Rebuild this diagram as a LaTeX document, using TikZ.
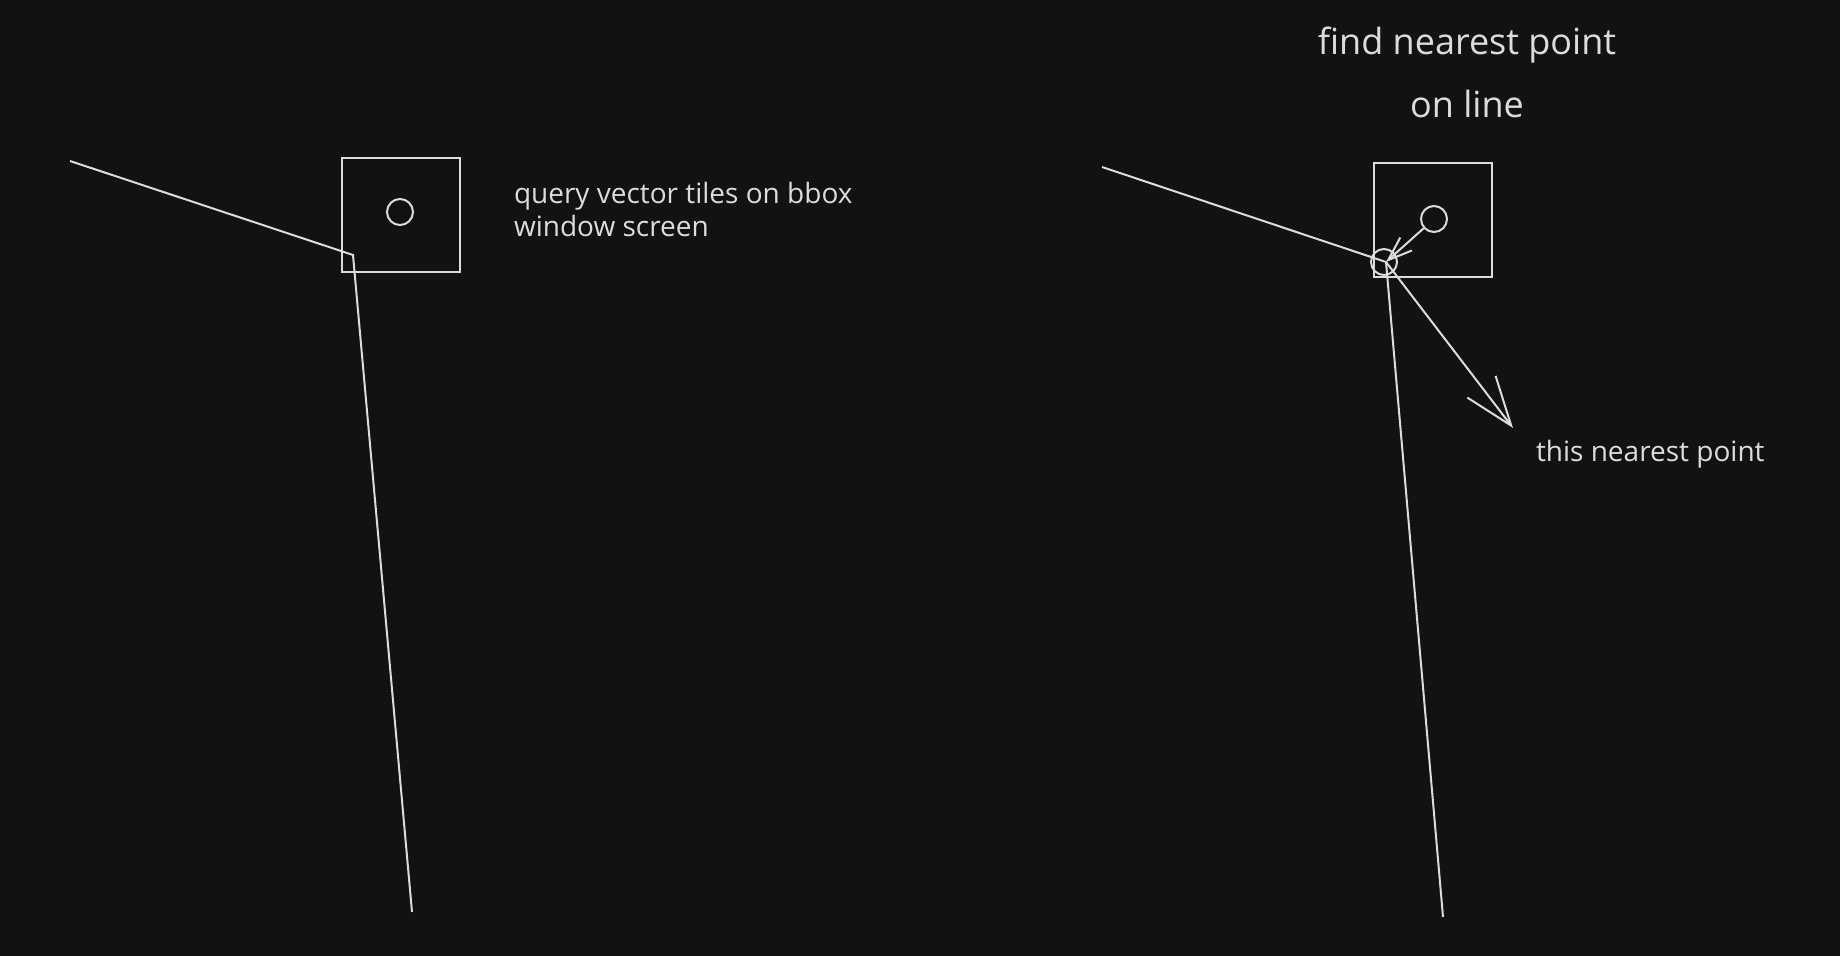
\documentclass[tikz,border=0pt]{standalone}
\usepackage{fontspec}
\setmainfont{Open Sans}
\usetikzlibrary{arrows.meta, positioning}
\definecolor{boardbg}{HTML}{121212}
\definecolor{chalk}{HTML}{DCDCDC}

\begin{document}
\begin{tikzpicture}[x=0.5pt, y=-0.5pt, line width=1pt, color=chalk,
    tile/.style={draw=chalk, rectangle, minimum width=59pt, minimum height=57pt, inner sep=0pt},
    pin/.style={draw=chalk, circle, minimum size=13pt, inner sep=0pt},
    note/.style={text=chalk, anchor=base west, inner sep=0pt, align=left,
                 font=\fontsize{14}{16.5}\selectfont},
    sketcharrow/.style={-{Straight Barb[length=24.5pt, width=17.8pt]}},
    smallarrow/.style={-{Straight Barb[length=12pt, width=8.7pt]}}]
    \useasboundingbox[fill=boardbg] (0,0) rectangle (1840,956);

    % left: query the bbox window
    \coordinate (leftA) at (70,161);
    \coordinate (leftB) at (353,255);
    \coordinate (leftC) at (412,912);
    \draw (leftA) -- (leftB) -- (leftC);
    \node[tile] (leftbox) at (400.5,215) {};
    \node[pin] (leftpin) at (400,212) {};
    \node[note] (query) at (513,237) {query vector tiles on bbox\\window screen};

    % right: snap to the line
    \coordinate (rightA) at (1102,167);
    \coordinate (nearest) at (1386,262);
    \coordinate (rightC) at (1443,917);
    \coordinate (pointer) at (1513,428);
    \draw (rightA) -- (nearest) -- (rightC);
    \node[tile] (rightbox) at (1433,220.5) {};
    \node[pin] (rightpin) at (1434,219) {};
    \node[pin] (nearestpin) at (1384,262) {};
    \draw[smallarrow] (rightpin) -- (nearest);
    \draw[sketcharrow] (nearest) -- (pointer);
    \node[note] (answer) at (1535,462) {this nearest point};
    \node[text=chalk, anchor=base, align=center, inner sep=0pt,
          font=\fontsize{18}{31.5}\selectfont] (title) at (1467,118)
          {find nearest point\\on line};
\end{tikzpicture}
\end{document}
